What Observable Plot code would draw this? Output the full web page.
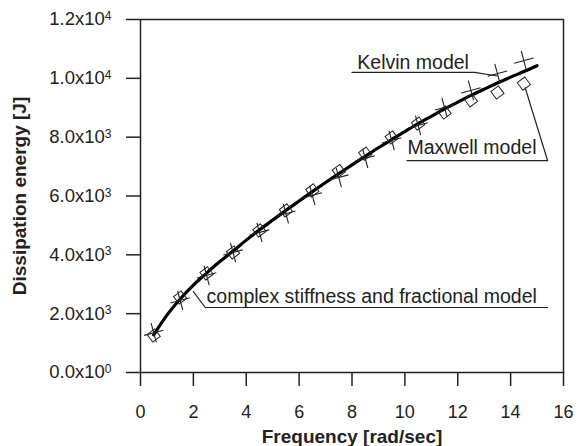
<!DOCTYPE html>
<html>
<head>
<meta charset="utf-8">
<script src="https://cdn.jsdelivr.net/npm/d3@7"></script>
<script src="https://cdn.jsdelivr.net/npm/@observablehq/plot@0.6"></script>
<style>
  html, body { margin: 0; padding: 0; background: #fff; }
  svg text { font-family: "Liberation Sans", Arial, sans-serif; }
  g[aria-label="x-axis label"] text { font-weight: bold; font-size: 19px; }
  g[aria-label="y-axis label"] text { font-weight: bold; font-size: 19px; }
</style>
</head>
<body>
<div id="chart"></div>
<script>
// ---- data ----
const freq = [0.5, 1.5, 2.5, 3.5, 4.5, 5.5, 6.5, 7.5, 8.5, 9.5, 10.5, 11.5, 12.5, 13.5, 14.5];
const kelvin = [1350, 2450, 3300, 4080, 4760, 5400, 6020, 6630, 7280, 7890, 8400, 9010, 9590, 10160, 10600];
const maxwell = [1260, 2550, 3370, 4080, 4830, 5510, 6190, 6850, 7440, 7990, 8460, 8840, 9250, 9520, 9820];

const curveFreq = [0.5, 1, 1.5, 2, 2.5, 3, 3.5, 4, 4.5, 5, 5.5, 6, 6.5, 7, 7.5, 8, 8.5, 9, 9.5, 10, 10.5, 11, 11.5, 12, 12.5, 13, 13.5, 14, 14.5, 15];
const curveEnergy = [1280, 1950, 2500, 2970, 3380, 3770, 4130, 4500, 4850, 5180, 5510, 5830, 6150, 6460, 6760, 7060, 7350, 7640, 7920, 8190, 8460, 8710, 8960, 9190, 9420, 9630, 9840, 10040, 10230, 10430];

const xTicks = [0, 2, 4, 6, 8, 10, 12, 14, 16];
const yTicks = [0, 2000, 4000, 6000, 8000, 10000, 12000];

const annotText = ["Kelvin model", "Maxwell model", "complex stiffness and fractional model"];
const annotX = [8.2, 10.1, 2.5];
const annotY = [10545, 7655, 2590];

const leaderModel = ["K", "K", "K", "M", "M", "M", "C", "C", "C"];
const leaderX = [8.0, 12.64, 13.5, 10.08, 15.4, 14.55, 15.4, 2.45, 2.0];
const leaderY = [10200, 10200, 10080, 7200, 7200, 9680, 2210, 2210, 2750];

// ---- tables ----
const kelvinData = freq.map((f, i) => ({f, e: kelvin[i]}));
const maxwellData = freq.map((f, i) => ({f, e: maxwell[i]}));
const curveData = curveFreq.map((f, i) => ({f, e: curveEnergy[i]}));
const annotData = annotText.map((t, i) => ({t, x: annotX[i], y: annotY[i]}));
const leaderData = leaderModel.map((m, i) => ({m, x: leaderX[i], y: leaderY[i]}));

const ink = "#222";
const fmt = d => {
  if (d === 0) return "0.0x10^0";
  const ex = Math.floor(Math.log10(d));
  return (d / Math.pow(10, ex)).toFixed(1) + "x10^" + ex;
};

const chart = Plot.plot({
  width: 588,
  height: 446,
  marginLeft: 140,
  marginRight: 25,
  marginTop: 19,
  marginBottom: 74,
  style: {fontFamily: "Liberation Sans, Arial, sans-serif", fontSize: "18px", color: ink, background: "#fff"},
  x: {domain: [0, 16]},
  y: {domain: [0, 12000]},
  marks: [
    Plot.frame({stroke: ink, strokeWidth: 1.5}),
    Plot.axisX({ticks: xTicks, tickSize: 14, tickPadding: 19, strokeWidth: 1.5, fontSize: 18,
      label: "Frequency [rad/sec]", labelAnchor: "center", labelOffset: 70, labelArrow: "none"}),
    Plot.axisY({ticks: yTicks, tickSize: 14, tickPadding: 15, strokeWidth: 1.5, fontSize: 18.5, tickFormat: fmt,
      label: "Dissipation energy [J]", labelAnchor: "center", labelOffset: 128, labelArrow: "none"}),
    Plot.line(curveData, {x: "f", y: "e", stroke: "#000", strokeWidth: 3.2, curve: "monotone-x"}),
    Plot.dot(maxwellData, {x: "f", y: "e", symbol: "diamond2", r: 6, stroke: ink, strokeWidth: 1, fill: "#fff", fillOpacity: 0, rotate: 8}),
    Plot.dot(kelvinData, {x: "f", y: "e", symbol: "plus", r: 6.5, stroke: ink, strokeWidth: 1.1, rotate: -15}),
    Plot.line(leaderData, {x: "x", y: "y", z: "m", stroke: ink, strokeWidth: 1.2}),
    Plot.text(annotData, {x: "x", y: "y", text: "t", textAnchor: "start", lineAnchor: "middle", fontSize: 19.5, fill: ink})
  ]
});

// superscript exponents on y tick labels
chart.querySelectorAll('g[aria-label="y-axis tick label"] text').forEach(t => {
  const s = t.textContent;
  if (!s.includes("^")) return;
  const [base, ex] = s.split("^");
  t.textContent = base;
  const ts = document.createElementNS("http://www.w3.org/2000/svg", "tspan");
  ts.setAttribute("dy", "-0.45em");
  ts.setAttribute("font-size", "12px");
  ts.textContent = ex;
  t.appendChild(ts);
});

document.getElementById("chart").appendChild(chart);
</script>
</body>
</html>
